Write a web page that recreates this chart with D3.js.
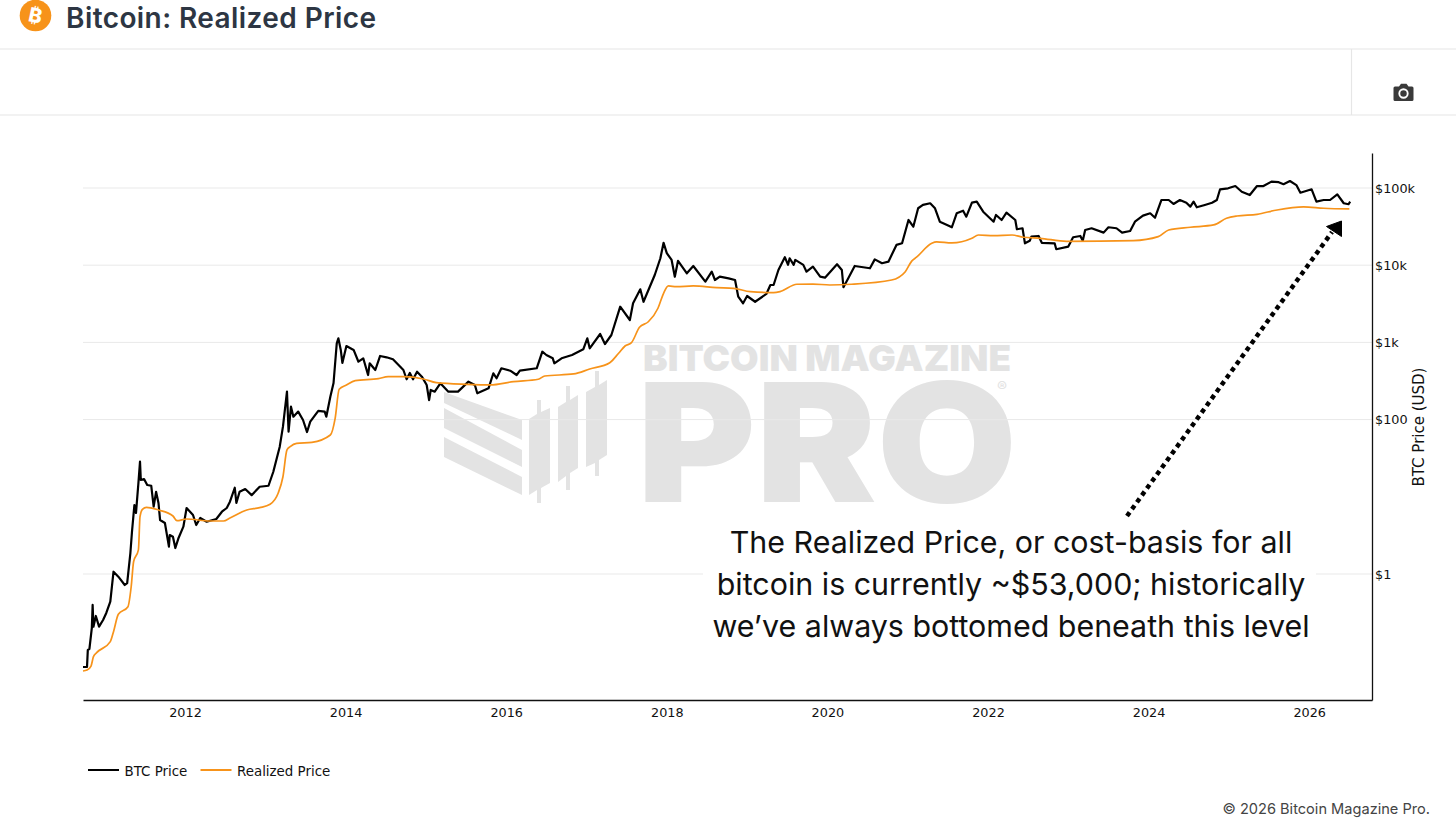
<!DOCTYPE html>
<html>
<head>
<meta charset="utf-8">
<title>Bitcoin: Realized Price</title>
<script src="https://cdn.jsdelivr.net/npm/d3@7"></script>
<style>
  html, body { margin: 0; padding: 0; background: #fff; }
  svg { display: block; }
  .title { font-family: Inter, sans-serif; font-weight: 600; font-size: 28px; letter-spacing: 0.42px; fill: #2d3643; }
  .axis text { font-family: "DejaVu Sans", sans-serif; font-size: 12.8px; fill: #111; }
  .legend-label { font-family: "DejaVu Sans", sans-serif; font-size: 13.4px; fill: #111; }
  .axis-title { font-family: "DejaVu Sans", sans-serif; font-size: 15px; fill: #111; }
  .note { font-family: Inter, sans-serif; font-size: 30.4px; fill: #111; text-anchor: middle; }
  .mark { font-family: Inter, sans-serif; font-weight: 900; fill: #e3e3e3; }
</style>
</head>
<body>
<svg id="chart" width="1456" height="818"></svg>
<script>
// values
const btcYears = [2010.73,2010.78,2010.79,2010.81,2010.84,2010.85,2010.86,2010.89,2010.93,2010.98,2011.02,2011.07,2011.11,2011.17,2011.25,2011.28,2011.32,2011.34,2011.37,2011.39,2011.42,2011.44,2011.45,2011.49,2011.53,2011.58,2011.61,2011.64,2011.67,2011.69,2011.75,2011.80,2011.81,2011.85,2011.88,2011.92,2011.98,2012.02,2012.10,2012.14,2012.19,2012.27,2012.39,2012.46,2012.52,2012.56,2012.62,2012.64,2012.68,2012.75,2012.83,2012.93,2013.04,2013.10,2013.18,2013.22,2013.27,2013.29,2013.32,2013.35,2013.41,2013.47,2013.52,2013.56,2013.66,2013.74,2013.76,2013.81,2013.85,2013.89,2013.91,2013.94,2013.96,2014.01,2014.10,2014.16,2014.22,2014.28,2014.30,2014.37,2014.43,2014.51,2014.59,2014.72,2014.76,2014.80,2014.84,2014.89,2014.95,2015.01,2015.04,2015.06,2015.11,2015.18,2015.28,2015.40,2015.53,2015.61,2015.64,2015.78,2015.84,2015.88,2015.94,2016.05,2016.13,2016.17,2016.38,2016.45,2016.50,2016.58,2016.60,2016.69,2016.82,2016.96,2017.01,2017.04,2017.17,2017.23,2017.31,2017.42,2017.54,2017.58,2017.67,2017.71,2017.85,2017.92,2017.96,2018.00,2018.06,2018.10,2018.14,2018.25,2018.33,2018.48,2018.56,2018.60,2018.66,2018.77,2018.85,2018.89,2018.95,2019.00,2019.10,2019.24,2019.29,2019.33,2019.39,2019.47,2019.51,2019.53,2019.58,2019.60,2019.70,2019.74,2019.82,2019.91,2019.97,2020.12,2020.18,2020.20,2020.26,2020.34,2020.53,2020.59,2020.68,2020.76,2020.86,2020.93,2021.01,2021.07,2021.13,2021.19,2021.28,2021.34,2021.40,2021.49,2021.55,2021.61,2021.69,2021.73,2021.80,2021.86,2021.94,2022.07,2022.10,2022.17,2022.23,2022.34,2022.36,2022.43,2022.46,2022.52,2022.54,2022.63,2022.67,2022.83,2022.85,2023.00,2023.06,2023.15,2023.18,2023.21,2023.29,2023.44,2023.50,2023.60,2023.67,2023.77,2023.83,2023.93,2024.02,2024.08,2024.16,2024.25,2024.31,2024.39,2024.47,2024.52,2024.56,2024.60,2024.70,2024.79,2024.85,2024.89,2024.99,2025.08,2025.16,2025.26,2025.35,2025.43,2025.53,2025.62,2025.68,2025.76,2025.84,2025.89,2026.03,2026.09,2026.18,2026.26,2026.35,2026.43,2026.49,2026.51];
const btcPrice = [0.0624,0.0624,0.104,0.107,0.2,0.397,0.208,0.286,0.208,0.254,0.313,0.438,1.07,0.923,0.721,0.764,1.87,3.53,7.83,6.17,15.1,28.5,16.5,17,14.2,13.9,7.45,11.6,8.31,5,4.58,2.26,3.2,3.04,2.17,2.93,4.1,7.16,5.81,4.31,5.31,4.76,5.16,6.41,7.16,8.64,13.1,8.31,11.6,12.6,10.5,13.5,13.9,21.1,44.6,80.9,230,69.7,147,109,127,98.8,69,94,130,127,109,198,298,973,1130,798,541,898,798,562,622,378,536,439,667,641,604,439,333,402,333,417,360,281,179,242,230,295,230,230,310,281,219,254,398,343,462,430,378,430,462,758,687,622,536,622,687,813,1130,839,1285,953,1247,2900,1950,3210,4870,3360,7460,12300,19500,14300,11700,7100,11400,7850,9770,6110,8240,6430,7100,6760,6430,3910,3210,3990,3360,4240,5540,5540,8660,12700,10100,12300,10100,11700,10100,8240,9570,7100,6890,10300,8660,5180,6760,9770,9120,11900,10600,11100,18300,19200,38500,31500,54600,60300,63400,54600,36600,33200,31000,47000,50800,42500,64500,66500,49300,36600,44700,38500,47900,38500,29200,30100,19200,20700,23400,23900,19500,19200,16100,17400,23000,23900,20700,28600,30100,26400,31000,30100,26400,27700,36600,43800,47000,41200,69900,69900,62100,69900,64500,57300,66500,56200,60300,64500,69900,96200,99100,106000,89500,81100,106000,106000,121000,119000,112000,123000,109000,86900,96200,66500,69900,69900,82800,63400,61600,66500];

const realizedYears = [2010.73,2010.78,2010.83,2010.86,2010.90,2011.07,2011.11,2011.17,2011.29,2011.33,2011.36,2011.42,2011.44,2011.47,2011.52,2011.67,2011.85,2011.90,2012.02,2012.31,2012.48,2012.56,2012.77,2012.93,2013.06,2013.16,2013.22,2013.27,2013.31,2013.39,2013.58,2013.81,2013.87,2013.92,2014.01,2014.12,2014.41,2014.53,2014.72,2014.97,2015.13,2015.51,2015.80,2016.09,2016.40,2016.48,2016.84,2017.04,2017.29,2017.40,2017.48,2017.56,2017.66,2017.77,2017.89,2017.96,2018.02,2018.12,2018.33,2018.62,2018.83,2019.04,2019.33,2019.41,2019.62,2019.82,2020.03,2020.30,2020.80,2020.97,2021.05,2021.11,2021.30,2021.36,2021.55,2021.80,2021.88,2022.07,2022.30,2022.44,2022.65,2022.98,2023.81,2024.12,2024.25,2024.52,2024.81,2024.97,2025.10,2025.35,2025.60,2025.93,2026.18,2026.50];
const realizedPrice = [0.0554,0.057,0.0643,0.0849,0.0957,0.133,0.179,0.301,0.377,0.684,1.44,2.05,5.52,6.89,7.31,6.75,5.64,4.9,5.16,4.86,4.86,5.31,6.75,7.23,8,11.1,18.2,40.4,44.6,49.3,50.8,63.2,104,247,281,319,339,360,360,336,301,286,281,310,333,367,390,452,546,723,898,991,1570,1850,2770,4330,5380,5270,5380,5120,5020,4540,4410,4540,5660,5700,5540,5660,6430,8240,11300,12700,19200,20000,19400,22300,24600,24100,24600,23000,22300,20400,20800,23400,28600,31000,33200,40500,43400,45600,51900,56800,54600,53500];

const yearTicks = [2012,2014,2016,2018,2020,2022,2024,2026];
const priceTicks = [1,100,1000,10000,100000];
const priceLabels = ['$1','$100','$1k','$10k','$100k'];
const noteLines = ['The Realized Price, or cost-basis for all','bitcoin is currently ~$53,000; historically','we\u2019ve always bottomed beneath this level'];

const svg = d3.select('#chart');

// plot area edges
const plotLeft = 83, plotRight = 1372, plotTop = 153, plotBottom = 700;

const x = d3.scaleLinear().domain([2010.73, 2026.782]).range([plotLeft, plotRight]);
const y = d3.scaleLog().domain([0.02333, 283900]).range([plotBottom, plotTop]);

// header
svg.append('line').attr('x1', 0).attr('x2', 1456).attr('y1', 49).attr('y2', 49).attr('stroke', '#e6e6e6').attr('stroke-width', 1.2);
svg.append('line').attr('x1', 0).attr('x2', 1456).attr('y1', 115).attr('y2', 115).attr('stroke', '#e6e6e6').attr('stroke-width', 1.2);
svg.append('line').attr('x1', 1351.5).attr('x2', 1351.5).attr('y1', 49).attr('y2', 115).attr('stroke', '#e6e6e6').attr('stroke-width', 1.2);
svg.append('circle').attr('cx', 35.5).attr('cy', 15.5).attr('r', 15.8).attr('fill', '#f7931a');
svg.append('text').attr('x', 35.5).attr('y', 22.5).attr('text-anchor', 'middle')
  .attr('transform', 'rotate(12 35.5 15.5)')
  .style('font-family', 'Inter, sans-serif').style('font-weight', 800).style('font-size', '20px').attr('fill', '#fff').text('\u20BF');
svg.append('text').attr('class', 'title').attr('x', 66).attr('y', 27.5).text('Bitcoin: Realized Price');

// camera icon
const cam = svg.append('g').attr('transform', 'translate(1393.5,83)');
cam.append('path').attr('fill', '#3a3a3a')
  .attr('d', 'M1.5 3.5H5.5L7.5 0.8H13L15 3.5H18.5A1.5 1.5 0 0 1 20 5V16.5A1.5 1.5 0 0 1 18.5 18H1.5A1.5 1.5 0 0 1 0 16.5V5A1.5 1.5 0 0 1 1.5 3.5Z');
cam.append('circle').attr('cx', 10).attr('cy', 10.5).attr('r', 4.2).attr('fill', 'none').attr('stroke', '#fff').attr('stroke-width', 1.9);

// watermark sits behind everything in the plot
const wm = svg.append('g');
wm.append('text').attr('class', 'mark').attr('x', 643).attr('y', 371)
  .attr('textLength', 368).attr('lengthAdjust', 'spacingAndGlyphs').style('font-size', '36px').text('BITCOIN MAGAZINE');
wm.append('text').attr('class', 'mark').attr('x', 637).attr('y', 502)
  .attr('textLength', 380).attr('lengthAdjust', 'spacingAndGlyphs').style('font-size', '165px').text('PRO');
wm.append('text').attr('x', 1002).attr('y', 392).attr('text-anchor', 'middle')
  .style('font-family', 'Inter, sans-serif').style('font-size', '15px').attr('fill', '#e3e3e3').text('\u00AE');
const logoShapes = [
  'M444 392L522 420V440L444 403Z',
  'M444 408L522 450V467L444 428Z',
  'M444 437L522 477V495L444 457Z',
  'M529 419L537 414V400H541V412L550 408V483L541 488V503H537V490L529 495Z',
  'M558 407L566 402V386H570V400L578 395V468L570 473V490H566V476L558 482Z',
  'M586 392L595 387V371H599V385L607 380V455L599 460V476H595V463L586 467Z'
];
wm.selectAll('path').data(logoShapes).enter().append('path').attr('d', d => d).attr('fill', '#e3e3e3');

// grid
svg.append('g').selectAll('line').data(priceTicks).enter().append('line')
  .attr('x1', plotLeft).attr('x2', plotRight)
  .attr('y1', d => y(d)).attr('y2', d => y(d))
  .attr('stroke', '#e9e9e9').attr('stroke-width', 1);

// series
const pairs = (xs, ys) => xs.map((d, i) => [d, ys[i]]);

const btcLine = d3.line().x(d => x(d[0])).y(d => y(d[1]));
const realizedLine = d3.line().x(d => x(d[0])).y(d => y(d[1])).curve(d3.curveMonotoneX);

svg.append('path').datum(pairs(btcYears, btcPrice))
  .attr('fill', 'none').attr('stroke', '#000').attr('stroke-width', 2.2).attr('stroke-linejoin', 'round')
  .attr('d', btcLine);
svg.append('path').datum(pairs(realizedYears, realizedPrice))
  .attr('fill', 'none').attr('stroke', '#f7931a').attr('stroke-width', 1.7)
  .attr('d', realizedLine);

// axes
const xAxis = svg.append('g').attr('class', 'axis').attr('transform', `translate(0,${plotBottom})`)
  .call(d3.axisBottom(x).tickValues(yearTicks).tickFormat(d3.format('d')).tickSize(0).tickPadding(8));
xAxis.select('.domain').attr('stroke', '#111').attr('stroke-width', 1.3);

const yAxis = svg.append('g').attr('class', 'axis').attr('transform', `translate(${plotRight},0)`)
  .call(d3.axisRight(y).tickValues(priceTicks).tickFormat((d, i) => priceLabels[i]).tickSize(0).tickPadding(3));
yAxis.select('.domain').attr('stroke', '#111').attr('stroke-width', 1.3);

svg.append('text').attr('class', 'axis-title').attr('transform', 'translate(1424,427) rotate(-90)')
  .attr('text-anchor', 'middle').text('BTC Price (USD)');

// legend
const legendItems = [['BTC Price', '#000', 88], ['Realized Price', '#f7931a', 200.5]];
legendItems.forEach(d => {
  svg.append('line').attr('x1', d[2]).attr('x2', d[2] + 31).attr('y1', 770).attr('y2', 770)
    .attr('stroke', d[1]).attr('stroke-width', 2);
  svg.append('text').attr('class', 'legend-label').attr('x', d[2] + 36.5).attr('y', 775.5).text(d[0]);
});

// annotation with its white backing
svg.append('rect').attr('x', 703).attr('y', 522).attr('width', 613).attr('height', 126).attr('fill', '#fff');
svg.append('g').selectAll('text').data(noteLines).enter().append('text')
  .attr('class', 'note').attr('x', 1011).attr('y', (d, i) => 552.8 + i * 42.2).text(d => d);

// dotted arrow up to the realized price
svg.append('line').attr('x1', 1127).attr('y1', 516).attr('x2', 1332).attr('y2', 232)
  .attr('stroke', '#000').attr('stroke-width', 4.5).attr('stroke-dasharray', '4.5 4');
svg.append('path').attr('d', 'M1341.5 221L1326.5 226.5L1341.5 236.5Z').attr('fill', '#000').attr('stroke', '#000').attr('stroke-width', 1);

svg.append('text').attr('x', 1430).attr('y', 814).attr('text-anchor', 'end')
  .style('font-family', 'Inter, sans-serif').style('font-size', '14.6px').attr('fill', '#444')
  .text('\u00A9 2026 Bitcoin Magazine Pro.');
</script>
</body>
</html>
